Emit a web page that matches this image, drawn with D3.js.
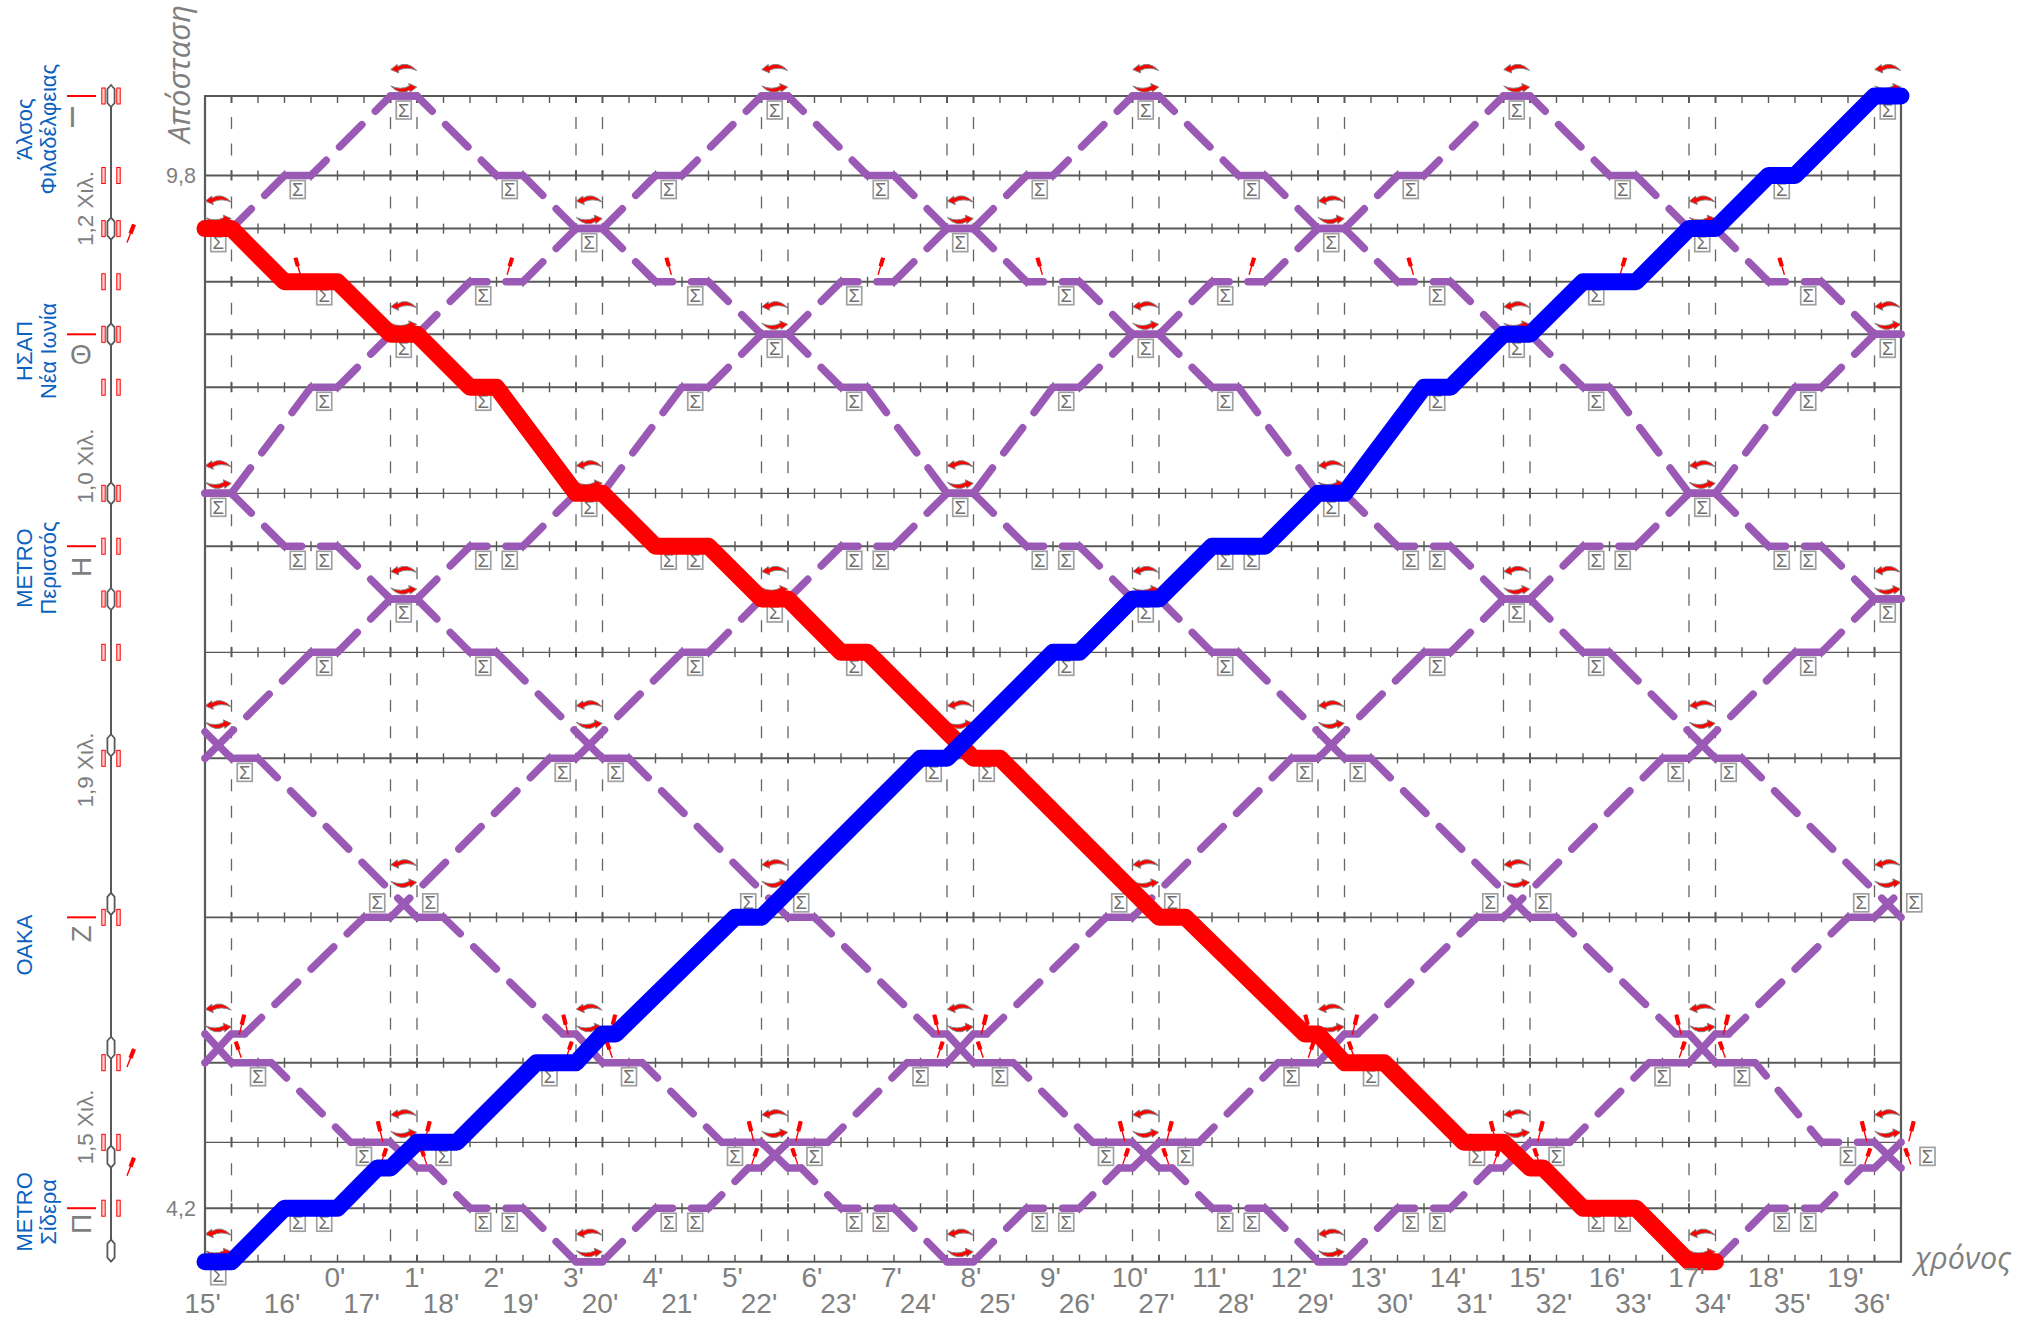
<!DOCTYPE html>
<html><head><meta charset="utf-8">
<style>html,body{margin:0;padding:0;background:#fff}svg{display:block}text{font-family:"Liberation Sans",Arial,sans-serif}</style>
<script src="https://cdn.jsdelivr.net/npm/d3@7/dist/d3.min.js"></script>
</head><body><svg id="c" width="2038" height="1327"></svg>
<script>
// time is counted in 20-second ticks from the left edge of the chart
const totalTicks = 64;
const rowKm = [10.23,9.799,9.511,9.223,8.938,8.651,8.076,7.789,7.214,6.639,5.777,4.989,4.557,4.2,3.91];
const thinRowKm = [8.076,7.214,4.557];
const dashedTimeTicks = [1,7,8,14,15,21,22,28,29,35,36,42,43,49,50,56,57,63];

const downTicks = [-7,-6,-3,-2,0,1,3,5,7,8,10,11,14,15,17,19,21,22,24,25,29,30,36,37,41.5,42,43,44.5,47.5,49,50,50.5,52,54,56,57];
const downKm = [10.23,10.23,9.799,9.799,9.511,9.511,9.223,9.223,8.938,8.938,8.651,8.651,8.076,8.076,7.789,7.789,7.503,7.503,7.214,7.214,6.639,6.639,5.777,5.777,5.145,5.145,4.989,4.989,4.557,4.557,4.418,4.418,4.2,4.2,3.91,3.91];
const upTicks = [0,1,3,5,6.5,7,8,9.5,12.5,14,15,15.5,20,21,27,28,32,33,35,36,38,40,42,43,46,47,49,50,52,54,56,57,59,60,63,64];
const upKm = [3.91,3.91,4.2,4.2,4.418,4.418,4.557,4.557,4.989,4.989,5.145,5.145,5.777,5.777,6.639,6.639,7.214,7.214,7.503,7.503,7.789,7.789,8.076,8.076,8.651,8.651,8.938,8.938,9.223,9.223,9.511,9.511,9.799,9.799,10.23,10.23];
const purpleDownStarts = [-56,-42,-28,-14,14,28,42,56,70];
const purpleUpStarts = [-56,-42,-28,-14,14,28,42,56];
// the train starting at +14 reaches its 4,56 km dwell one half tick early
const earlyDwell = {start:14, from:47.5, to:47};

const sigmaDownTicks = [-6.5,-2.5,0.5,4.5,7.5,10.5,14.5,17.5,18.5,21.5,24.5,29.5,36.5,44,48,52.5,53.5];
const sigmaDownKm = [10.23,9.799,9.511,9.223,8.938,8.651,8.076,7.789,7.789,7.503,7.214,6.639,5.777,4.989,4.557,4.2,4.2];
const sigmaUpTicks = [63.5,59.5,56.5,52.5,49.5,46.5,42.5,39.5,38.5,35.5,32.5,27.5,20.5,13,9,4.5,3.5];
const sigmaUpKm = [10.23,9.799,9.511,9.223,8.938,8.651,8.076,7.789,7.789,7.503,7.214,6.639,5.777,4.989,4.557,4.2,4.2];
const terminalSigmaTick = 0.5, terminalSigmaKm = 3.91;
const trainStartsAll = [-70,-56,-42,-28,-14,0,14,28,42,56,70];

const crossingA = [0.5,14.5,28.5,42.5,56.5];
const crossingB = [7.5,21.5,35.5,49.5,63.5];
const turnRowsA = [9.511,8.076,6.639,4.989,3.91];
const turnLiftA = [19,19,44,45,19];
const turnRowsB = [10.23,8.938,7.503,5.777,4.557];
const turnLiftB = [18,19,19,44,19];
const signalCrossRows = [{km:4.989,ticks:crossingA,lift:27},{km:4.557,ticks:crossingB,lift:0}];
const signalDownTicks = [3.6,17.6,31.6,45.6,59.6];
const signalUpTicks = [11.4,25.4,39.4,53.4];
const signalRowKm = 9.223;

const topTimeLabels = d3.range(0,20).map(d=>d+"'");
const bottomTimeLabels = d3.range(15,37).map(d=>d+"'");
const kmLabels = ["9,8","4,2"]; const kmLabelValues = [9.799,4.2];

const stationKm = [10.23,8.938,7.789,5.777,4.2];
const stationLetters = ["Η","Ζ","Π"];
const stationLetterY = [567,934,1224];
const stationLine1 = ["Άλσος","ΗΣΑΠ","METRO","ΟΑΚΑ","METRO"];
const stationLine2 = ["Φιλαδέλφειας","Νέα Ιωνία","Περισσός","","Σίδερα"];
const stationLabelKm = [10.05,8.848,7.671,5.627,4.18];
const sectionText = ["1,2 Χιλ.","1,0 Χιλ.","1,9 Χιλ.","1,5 Χιλ."];
const sectionKm = [9.62,8.224,6.576,4.64];
const trackPlatformKm = [10.23,9.511,8.938,8.076,7.503,6.71,5.85,5.07,4.48,3.97];
const trackSignalKm = [10.23,9.799,9.511,9.223,8.938,8.651,8.076,7.789,7.503,7.214,6.639,5.777,4.989,4.557,4.2];
const trackMarkKm = [9.49,5.02,4.43];

const purple="#9b59b6", axisGrey="#595959", textGrey="#7f7f7f", blueText="#0a62c0";
const x=d3.scaleLinear().domain([0,totalTicks]).range([205,1901]);
const y=d3.scaleLinear().domain([10.23,3.91]).range([96,1261.7]);
const svg=d3.select("#c");

// frame, rows, ticks
const gV=svg.append("g");
rowKm.forEach((km,i)=>{
  if(i===rowKm.length-1) return;
  const y0=y(km), y1=y(rowKm[i+1]);
  gV.selectAll(null).data(dashedTimeTicks).join("line")
    .attr("x1",d=>x(d)).attr("x2",d=>x(d)).attr("y1",y0+21).attr("y2",y1-2)
    .attr("stroke","#666").attr("stroke-width",1.3).attr("stroke-dasharray","12 14.5");
});
const gG=svg.append("g");
gG.selectAll("line").data(rowKm).join("line")
  .attr("x1",x(0)).attr("x2",x(totalTicks)).attr("y1",d=>y(d)).attr("y2",d=>y(d))
  .attr("stroke",axisGrey).attr("stroke-width",d=>thinRowKm.includes(d)?1.3:(d===5.777?1.6:2));
const tickVals=d3.range(1,totalTicks);
rowKm.forEach((km,i)=>{
  const up=i===0?0:5, dn=i===rowKm.length-1?0:5;
  const ty=y(km);
  svg.append("g").selectAll("line").data(tickVals).join("line")
    .attr("x1",d=>x(d)).attr("x2",d=>x(d))
    .attr("y1",ty-(i===rowKm.length-1?7:up)).attr("y2",ty+(i===0?7:dn))
    .attr("stroke",axisGrey).attr("stroke-width",d=>dashedTimeTicks.includes(d)?2:1.4);
});
svg.append("g").selectAll("line").data([0,totalTicks]).join("line")
  .attr("x1",d=>x(d)).attr("x2",d=>x(d)).attr("y1",y(10.23)-1).attr("y2",y(3.91)+1)
  .attr("stroke",axisGrey).attr("stroke-width",2.2);

// purple trains: every segment carries gaps spaced evenly round its middle
function trainPoints(ticks,kms,start){
  return ticks.map((t,i)=>{
    let v=t;
    if(start===earlyDwell.start && t===earlyDwell.from) v=earlyDwell.to;
    return [x(v+start),y(kms[i])];
  });
}
function clipPiece(a,b){
  const lo=x(0), hi=x(totalTicks);
  let [x0,y0]=a,[x1,y1]=b;
  if((x0<lo&&x1<lo)||(x0>hi&&x1>hi)) return null;
  const at=v=>y0+(y1-y0)*(v-x0)/((x1-x0)||1);
  let ax=x0,ay=y0,bx=x1,by=y1;
  if(x0<lo){ax=lo;ay=at(lo);} if(x1>hi){bx=hi;by=at(hi);}
  return `M${ax},${ay}L${bx},${by}`;
}
function dashedPath(pts){
  const period=50.5, half=9.5; let d="";
  for(let i=0;i<pts.length-1;i++){
    const a=pts[i], b=pts[i+1];
    const L=Math.hypot(b[0]-a[0],b[1]-a[1]); if(L===0) continue;
    const n=Math.floor(L/50);
    const at=s=>[a[0]+(b[0]-a[0])*s/L,a[1]+(b[1]-a[1])*s/L];
    let s=0;
    for(let j=0;j<n;j++){
      const c=L/2+(j-(n-1)/2)*period;
      const p=clipPiece(at(s),at(c-half)); if(p)d+=p;
      s=c+half;
    }
    const p=clipPiece(at(s),at(L)); if(p)d+=p;
  }
  return d;
}
const purpleG=svg.append("g").attr("fill","none").attr("stroke",purple).attr("stroke-width",7.5).attr("stroke-linecap","round").attr("stroke-linejoin","round");
purpleDownStarts.forEach(s=>purpleG.append("path").attr("d",dashedPath(trainPoints(downTicks,downKm,s))));
purpleUpStarts.forEach(s=>purpleG.append("path").attr("d",dashedPath(trainPoints(upTicks,upKm,s))));

// sigma boxes
const sigmaSeen=new Set(), sigmaList=[];
function addSigma(k,km){const key=k+"|"+km; if(k<0||k>65.5||sigmaSeen.has(key))return; sigmaSeen.add(key); sigmaList.push({k,km});}
trainStartsAll.forEach(s=>{
  sigmaDownTicks.forEach((t,i)=>addSigma(t+s,sigmaDownKm[i]));
  sigmaUpTicks.forEach((t,i)=>addSigma(t+s,sigmaUpKm[i]));
});
addSigma(terminalSigmaTick,terminalSigmaKm);
const sg=svg.append("g").selectAll("g").data(sigmaList).join("g")
  .attr("transform",d=>`translate(${x(d.k)},${y(d.km)+(d.km===5.777?-14.5:14)})`);
sg.append("rect").attr("x",-7.5).attr("y",-9).attr("width",15).attr("height",18)
  .attr("fill","none").attr("stroke","#a0a0a0").attr("stroke-width",1.7);
sg.append("text").attr("text-anchor","middle").attr("y",6.5).attr("font-size",18.5).attr("fill","#6f6f6f").text("Σ");

// turn-round arrows
const crescent="M13,0.5Q3,-9.5-6,-3.5L-6.5,-5.5L-13,-0.5L-5,3L-5.5,0.5Q3,-4 13,0.5Z";
function turn(k,yy){
  const g=svg.append("g").attr("transform",`translate(${x(k)},${yy})`);
  [[-8,0],[8.5,180]].forEach(([dy,r])=>{
    g.append("path").attr("d",crescent).attr("transform",`translate(0,${dy}) rotate(${r})`)
      .attr("fill","#ff0000").attr("stroke","#858585").attr("stroke-width",1);
  });
}
turnRowsA.forEach((km,i)=>crossingA.forEach(k=>turn(k,y(km)-turnLiftA[i])));
turnRowsB.forEach((km,i)=>crossingB.forEach(k=>turn(k,y(km)-turnLiftB[i])));

// red signal marks
function signal(bx,by,tx,ty){
  const mx=(bx+tx)/2,my=(by+ty)/2;
  svg.append("line").attr("x1",bx).attr("y1",by).attr("x2",tx).attr("y2",ty).attr("stroke","#ff0000").attr("stroke-width",1.4);
  svg.append("line").attr("x1",mx).attr("y1",my).attr("x2",tx).attr("y2",ty).attr("stroke","#ff0000").attr("stroke-width",4.2);
}

// mainline trains
const redG=svg.append("g"), blueG=svg.append("g");
const lineGen=d3.line();
const redPts=trainPoints(downTicks,downKm,0).filter((p,i)=>downTicks[i]>=0);
const bluePts=trainPoints(upTicks,upKm,0);
signalDownTicks.forEach(k=>signal(x(k),y(signalRowKm)-7,x(k)-5,y(signalRowKm)-24));
signalUpTicks.forEach(k=>signal(x(k),y(signalRowKm)-7,x(k)+5,y(signalRowKm)-24));
signalCrossRows.forEach(r=>r.ticks.forEach(k=>{
  const cx=x(k), ry=y(r.km)-r.lift;
  [-1,1].forEach(s=>{
    if(cx+s*20<x(0)) return;
    signal(cx+s*21,ry-1,cx+s*26,ry-21);
    signal(cx+s*23,ry+22,cx+s*17.5,ry+6);
  });
}));
redG.append("path").attr("d",lineGen(redPts)).attr("fill","none").attr("stroke","#ff0000").attr("stroke-width",17).attr("stroke-linecap","round").attr("stroke-linejoin","round");
blueG.append("path").attr("d",lineGen(bluePts)).attr("fill","none").attr("stroke","#0000ff").attr("stroke-width",17).attr("stroke-linecap","round").attr("stroke-linejoin","round");
svg.node().appendChild(blueG.node());

// time labels
function labels(list,ticks,baseline){
  svg.append("g").selectAll("text").data(list).join("text")
    .attr("x",(d,i)=>x(ticks(i))-2.5).attr("y",baseline).attr("text-anchor","middle")
    .attr("font-size",28).attr("fill",textGrey).text(d=>d);
}
labels(topTimeLabels,i=>5+3*i,1287);
labels(bottomTimeLabels,i=>3*i,1313);
svg.append("g").selectAll("text").data(kmLabels).join("text")
  .attr("x",196).attr("y",(d,i)=>y(kmLabelValues[i])+8).attr("text-anchor","end")
  .attr("font-size",21.5).attr("fill",textGrey).text(d=>d);

function vText(txt,xx,yy,size,fill,extra){
  const t=svg.append("text").attr("transform",`translate(${xx},${yy}) rotate(-90)`).attr("text-anchor","middle")
    .attr("font-size",size).attr("fill",fill).text(txt);
  if(extra) extra(t);
}
vText("Απόσταση",190,74,31,textGrey,t=>t.style("font-family","'Open Sans'").attr("font-style","italic"));
svg.append("text").attr("x",1915).attr("y",1269).attr("font-size",30.5).attr("fill",textGrey)
  .attr("font-style","italic").style("font-family","'Open Sans'").text("χρόνος");

// track diagram
const trackX=111;
svg.append("line").attr("x1",trackX).attr("x2",trackX).attr("y1",y(10.23)-10).attr("y2",y(3.97)+10).attr("stroke",axisGrey).attr("stroke-width",2);
trackSignalKm.forEach(km=>[-7.5,7.5].forEach(s=>{
  svg.append("rect").attr("x",trackX+s-1.7).attr("y",y(km)-8).attr("width",3.4).attr("height",16)
    .attr("fill","#ffd0d0").attr("stroke","#ff0000").attr("stroke-width",1);
}));
const oval=d3.line().curve(d3.curveLinearClosed);
trackPlatformKm.forEach(km=>{
  const c=y(km);
  svg.append("path").attr("d",oval([[trackX,c-11],[trackX+3.6,c-7],[trackX+3.6,c+7],[trackX,c+11],[trackX-3.6,c+7],[trackX-3.6,c-7]]))
    .attr("fill","#fff").attr("stroke",axisGrey).attr("stroke-width",1.8);
});
trackMarkKm.forEach(km=>signal(127,y(km)+10,134,y(km)-8));
stationKm.forEach((km,i)=>{
  svg.append("line").attr("x1",67).attr("x2",96).attr("y1",y(km)).attr("y2",y(km)).attr("stroke","#ff0000").attr("stroke-width",2);
});
// the two letters that read the same when turned stand upright in the reference
svg.append("text").attr("x",72.5).attr("y",127).attr("text-anchor","middle").attr("font-size",30).attr("fill",textGrey).text("Ι");
svg.append("text").attr("x",81).attr("y",364).attr("text-anchor","middle").attr("font-size",28).attr("fill",textGrey).text("Θ");
stationLetters.forEach((s,i)=>vText(s,91,stationLetterY[i],28,textGrey));
stationLine1.forEach((s,i)=>vText(s,31.5,y(stationLabelKm[i]),22,blueText));
stationLine2.forEach((s,i)=>{ if(s) vText(s,56,y(stationLabelKm[i]),22,blueText); });
sectionText.forEach((s,i)=>vText(s,93,y(sectionKm[i]),22.5,textGrey));
</script></body></html>
